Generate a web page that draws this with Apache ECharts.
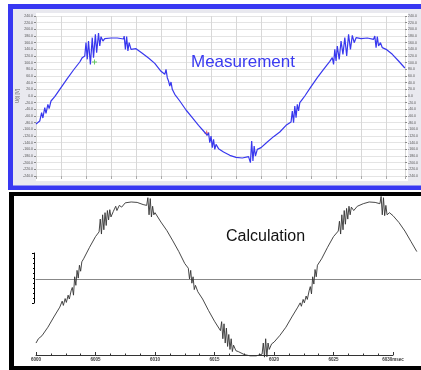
<!DOCTYPE html>
<html>
<head>
<meta charset="utf-8">
<style>
  html, body { margin: 0; padding: 0; background: #fff; }
  #chart { width: 421px; height: 370px; }
</style>
<script src="https://cdn.jsdelivr.net/npm/echarts@6/dist/echarts.min.js"></script>
</head>
<body>
<div id="chart"></div>
<script>
// measured voltage (top panel), time in ms from the left edge
const measTime = [0.0, 0.3, 0.45, 0.55, 0.7, 0.8, 0.95, 1.05, 1.2, 1.5, 2.0, 2.5, 3.0, 3.5, 3.7, 3.9, 4.0, 4.1, 4.2, 4.35,
  4.5, 4.6, 4.75, 4.85, 5.0, 5.1, 5.2, 5.35, 5.5, 6.0, 6.5, 7.0, 7.05, 7.15, 7.25, 7.35, 7.45, 7.6, 8.0, 8.5,
  9.0, 9.5, 10.0, 10.3, 10.4, 10.5, 10.6, 10.7, 10.8, 10.9, 11.0, 11.1, 11.2, 11.5, 12.0, 12.5, 13.0, 13.4, 13.5, 13.7,
  13.8, 13.9, 14.0, 14.1, 14.2, 14.3, 14.4, 14.6, 15.0, 15.5, 16.0, 16.5, 17.0, 17.15, 17.25, 17.35, 17.45, 17.55, 17.7, 18.0,
  18.5, 19.0, 19.5, 20.0, 20.4, 20.5, 20.6, 20.7, 20.8, 20.9, 21.0, 21.1, 21.3, 21.5, 22.0, 22.5, 23.0, 23.5, 23.7, 23.8,
  23.9, 24.0, 24.1, 24.25, 24.4, 24.55, 24.7, 24.85, 25.0, 25.15, 25.3, 25.45, 25.6, 26.0, 26.5, 27.0, 27.1, 27.2, 27.3, 27.4,
  27.55, 27.7, 28.0, 28.5, 29.0, 29.5]
const measVolt = [-84, -75, -50, -66, -35, -52, -25, -38, -15, -2, 25, 52, 78, 102, 115, 120, 160, 110, 165, 95,
  175, 115, 185, 130, 189, 150, 178, 165, 172, 174, 174, 171, 180, 140, 178, 135, 160, 140, 142, 128,
  114, 98, 74, 65, 80, 55, 45, 30, 42, 20, 25, 5, 10, -15, -42, -65, -88, -105, -100, -118,
  -110, -140, -120, -155, -130, -160, -145, -158, -168, -178, -184, -186, -182, -200, -135, -195, -150, -180, -160, -155,
  -138, -122, -108, -88, -78, -45, -80, -30, -65, -25, -45, -20, -10, 0, 28, 55, 80, 104, 115, 95,
  140, 105, 150, 110, 165, 125, 175, 120, 185, 140, 182, 160, 175, 172, 174, 170, 180, 145, 178, 150,
  160, 145, 140, 125, 105, 84]

// cursor markers on the measurement
const markTime = [4.68, 13.65]
const markVolt = [102, -111]
const markColor = ['#44bb44', '#ee4444']

// calculated voltage (bottom panel), ms after calcStart
const calcStart = 6000
const calcMs = [0.0, 0.2, 0.3, 0.5, 1.0, 1.5, 2.0, 2.2, 2.3, 2.45, 2.55, 2.7, 2.8, 2.95, 3.05, 3.15, 3.25, 3.35, 3.45, 3.55,
  3.65, 3.75, 3.85, 4.0, 4.5, 5.0, 5.3, 5.4, 5.5, 5.6, 5.7, 5.8, 5.9, 6.0, 6.1, 6.2, 6.3, 6.5, 6.7, 6.8,
  7.0, 7.2, 7.5, 8.0, 8.5, 9.0, 9.3, 9.4, 9.5, 9.6, 9.7, 9.8, 9.9, 10.0, 10.5, 11.0, 11.5, 12.0, 12.5, 12.8,
  12.9, 13.0, 13.1, 13.2, 13.3, 13.4, 13.6, 14.0, 14.5, 15.0, 15.5, 15.6, 15.7, 15.8, 15.9, 16.0, 16.1, 16.2, 16.3, 16.4,
  16.5, 16.6, 16.8, 17.0, 17.5, 18.0, 18.5, 19.0, 19.1, 19.2, 19.3, 19.4, 19.5, 19.6, 19.8, 20.0, 20.5, 21.0, 21.5, 22.0,
  22.2, 22.3, 22.45, 22.55, 22.7, 22.8, 22.95, 23.05, 23.15, 23.25, 23.35, 23.45, 23.55, 23.65, 23.8, 24.0, 24.5, 25.0, 25.4, 25.5,
  25.6, 25.7, 25.8, 25.9, 26.0, 26.1, 26.2, 26.3, 26.4, 26.5, 26.7, 27.0, 27.5, 28.0, 28.5, 28.9, 29.0, 29.1, 29.2, 29.3,
  29.4, 29.5, 29.7, 30.0, 30.5, 31.0, 31.5, 32.0]
const calcVolt = [-150, -140, -143, -133, -113, -89, -66, -52, -62, -46, -55, -38, -47, -28, -20, -38, 5, -15, 20, 2,
  32, 18, 40, 47, 74, 99, 110, 140, 105, 150, 115, 155, 125, 160, 138, 162, 145, 158, 170, 160,
  172, 168, 178, 180, 179, 174, 172, 190, 150, 188, 145, 170, 150, 155, 133, 113, 89, 64, 36, 25,
  0, 20, -10, 5, -25, -15, -30, -47, -74, -99, -121, -100, -140, -105, -150, -115, -158, -130, -165, -140,
  -170, -155, -168, -170, -177, -180, -180, -176, -150, -183, -140, -182, -150, -165, -152, -148, -132, -113, -89, -66,
  -56, -64, -48, -56, -40, -48, -28, -18, -35, 5, -12, 22, 5, 32, 35, 47, 74, 99, 112, 135,
  105, 150, 115, 160, 128, 165, 140, 170, 150, 168, 160, 170, 176, 180, 179, 176, 193, 150, 190, 148,
  172, 150, 155, 148, 132, 112, 88, 64]

const myChart = echarts.init(document.getElementById('chart'))

const frames = [
  // blue frame + grey panel of the measurement window
  { type: 'rect', z: -10, shape: { x: 8, y: 4, width: 420, height: 186 }, style: { fill: '#3838f2' } },
  { type: 'rect', z: -9, shape: { x: 13, y: 9, width: 415, height: 176.5 }, style: { fill: '#e9e9ef' } },
  { type: 'rect', z: -8, shape: { x: 36, y: 13, width: 372, height: 168 }, style: { fill: '#fff' } },
  // black frame of the calculation window
  { type: 'rect', z: -10, shape: { x: 9, y: 192, width: 420, height: 178 }, style: { fill: '#000' } },
  { type: 'rect', z: -9, shape: { x: 14, y: 196, width: 415, height: 170 }, style: { fill: '#fff' } },
  {
    type: 'text', z: 10,
    style: { text: 'Measurement', x: 191, y: 62, verticalAlign: 'middle', fill: '#3a3af0', font: '17px "Liberation Sans", Arial, sans-serif' },
  },
  {
    type: 'text', z: 10,
    style: { text: 'Calculation', x: 226, y: 237, verticalAlign: 'middle', fill: '#111', font: '16px "Liberation Sans", Arial, sans-serif' },
  },
]

const voltLabel = {
  fontSize: 3.5,
  color: '#555',
  margin: 3,
  formatter: (v) => v.toFixed(1),
}

// px per ms of the calculation time axis (6000..6030 over 357 px)
const calcPxPerMs = 357 / 30

const option = {
  animation: false,
  graphic: frames,
  grid: [
    { left: 36, top: 16, width: 372, height: 160 },
    { left: 36, top: 196, width: 385, height: 159 },
    { left: 36, top: 196, width: 357, height: 159 },
    { left: 34, top: 253, width: 1, height: 50 },
  ],
  xAxis: [
    {
      gridIndex: 0, type: 'value', min: 0, max: 29.52, interval: 2,
      axisLine: { show: false, onZero: false },
      axisTick: { show: true, length: 3, lineStyle: { color: '#aaa' } },
      axisLabel: { show: false },
      splitLine: { lineStyle: { color: '#d8d8d8' } },
    },
    {
      // curve axis, runs to the right edge; its line is the zero line
      gridIndex: 1, type: 'value', min: calcStart, max: calcStart + 385 / calcPxPerMs,
      axisLine: { onZero: true, lineStyle: { color: '#888', width: 1 } },
      axisTick: { show: false }, axisLabel: { show: false }, splitLine: { show: false },
    },
    {
      gridIndex: 2, type: 'value', min: calcStart, max: calcStart + 30, interval: 5,
      axisLine: { onZero: false, lineStyle: { color: '#333', width: 1 } },
      axisTick: { inside: true, length: 3, lineStyle: { color: '#333' } },
      minorTick: { show: true, splitNumber: 4, length: 1.5, lineStyle: { color: '#333' } },
      axisLabel: {
        fontSize: 4.5, fontWeight: 'bold', color: '#333', margin: 2,
        formatter: (v) => (v === calcStart + 30 ? v + 'msec' : String(v)),
      },
      splitLine: { show: false },
    },
    { gridIndex: 3, type: 'value', min: 0, max: 1, show: false },
  ],
  yAxis: [
    {
      gridIndex: 0, type: 'value', min: -240, max: 240, interval: 20, position: 'left',
      axisLine: { show: false, onZero: false },
      axisTick: { show: true, length: 2, lineStyle: { color: '#888' } },
      axisLabel: voltLabel,
      splitLine: { lineStyle: { color: '#e4e4e4' } },
      name: 'U(t) [V]', nameLocation: 'middle', nameGap: 16, nameMoveOverlap: false,
      nameTextStyle: { fontSize: 4.5, color: '#666' },
    },
    {
      gridIndex: 0, type: 'value', min: -240, max: 240, interval: 20, position: 'right',
      axisLine: { show: false, onZero: false },
      axisTick: { show: true, length: 2, lineStyle: { color: '#888' } },
      axisLabel: voltLabel,
      splitLine: { show: false },
    },
    {
      gridIndex: 1, type: 'value', min: -178, max: 194,
      axisLine: { show: false, onZero: false }, axisTick: { show: false }, axisLabel: { show: false }, splitLine: { show: false },
    },
    { gridIndex: 2, type: 'value', min: -178, max: 194, show: false },
    {
      gridIndex: 3, type: 'value', min: 0, max: 1, interval: 1,
      axisLine: { show: true, onZero: false, lineStyle: { color: '#000', width: 1 } },
      axisTick: { show: true, length: 2, lineStyle: { color: '#000' } },
      minorTick: { show: true, splitNumber: 10, length: 1, lineStyle: { color: '#000' } },
      axisLabel: { show: false },
      splitLine: { show: false },
    },
  ],
  series: [
    {
      name: 'Measurement',
      type: 'line',
      xAxisIndex: 0, yAxisIndex: 0,
      data: measTime.map((t, i) => [t, measVolt[i]]),
      showSymbol: false,
      lineStyle: { color: '#3838ee', width: 1.2 },
    },
    {
      type: 'scatter',
      xAxisIndex: 0, yAxisIndex: 0,
      data: markTime.map((t, i) => ({ value: [t, markVolt[i]], itemStyle: { color: markColor[i] } })),
      symbol: 'path://M4,0h2v4h4v2h-4v4h-2v-4h-4v-2h4z',
      symbolSize: 5,
    },
    {
      name: 'Calculation',
      type: 'line',
      xAxisIndex: 1, yAxisIndex: 2,
      data: calcMs.map((t, i) => [calcStart + t, calcVolt[i]]),
      showSymbol: false,
      clip: false,
      lineStyle: { color: '#333', width: 0.9 },
    },
  ],
}

option && myChart.setOption(option)
</script>
</body>
</html>
